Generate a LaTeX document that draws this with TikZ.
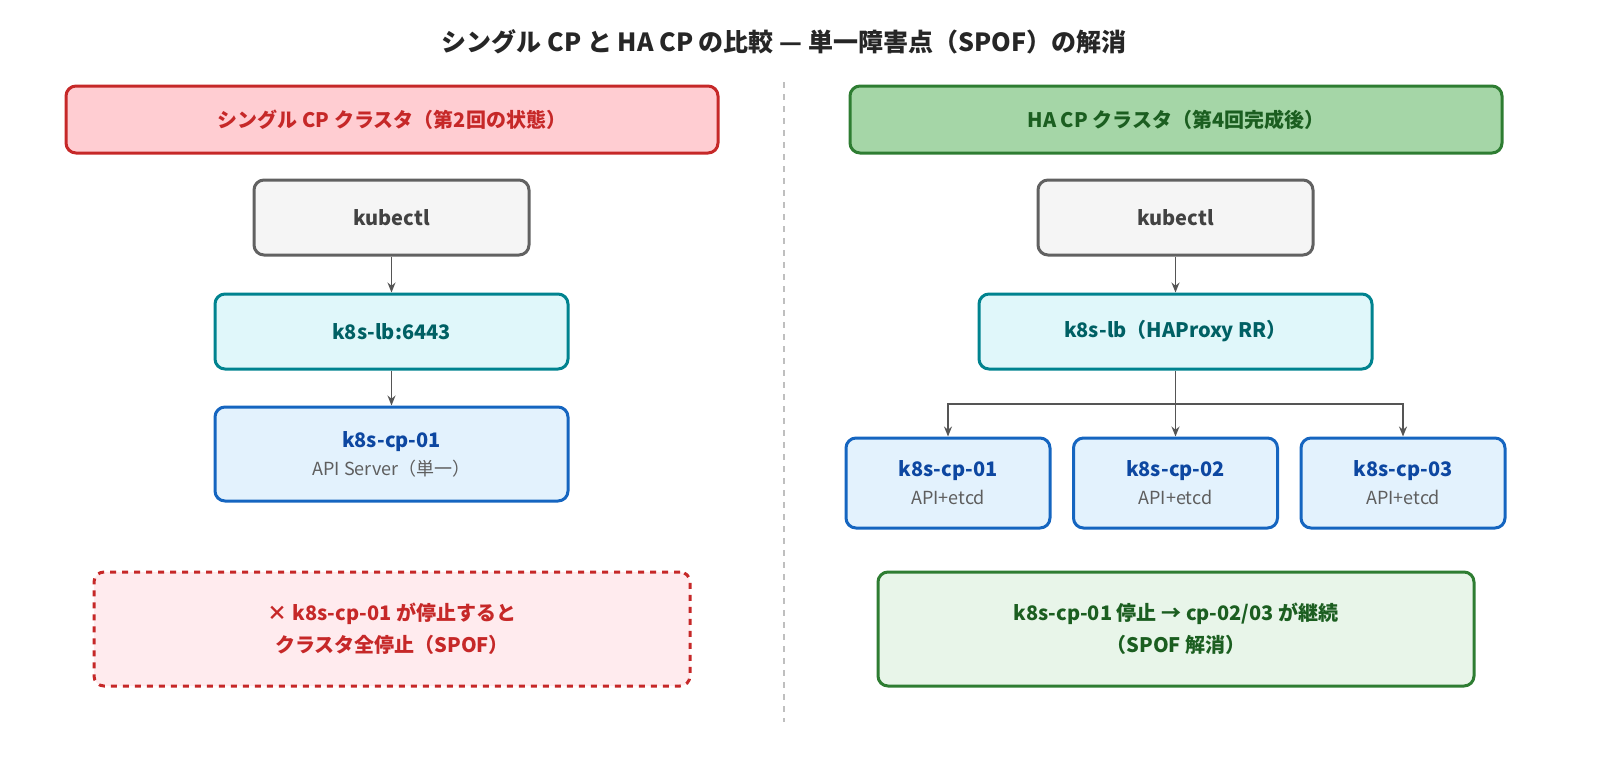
\documentclass[tikz,border=0pt]{standalone}
\usepackage{fontspec}
\setmainfont{Noto Sans CJK JP}
\usetikzlibrary{arrows.meta}
\definecolor{rb}{HTML}{C62828}\definecolor{rf}{HTML}{FFCDD2}\definecolor{rn}{HTML}{FFEBEE}
\definecolor{gb}{HTML}{2E7D32}\definecolor{gf}{HTML}{A5D6A7}\definecolor{gt}{HTML}{1B5E20}\definecolor{gn}{HTML}{E8F5E9}
\definecolor{kb}{HTML}{616161}\definecolor{kf}{HTML}{F5F5F5}\definecolor{kt}{HTML}{424242}
\definecolor{lb}{HTML}{00838F}\definecolor{lf}{HTML}{E0F7FA}\definecolor{lt}{HTML}{006064}
\definecolor{cb}{HTML}{1565C0}\definecolor{cf}{HTML}{E3F2FD}\definecolor{ct}{HTML}{0D47A1}
\tikzset{box/.style={draw,line width=1.5pt,rounded corners=5pt,align=center,font=\bfseries\fontsize{10}{16}\selectfont},
arr/.style={draw=kt!90,line width=0.7pt,-{Stealth[length=5pt,width=4pt]}},
sub/.style={font=\mdseries\fontsize{9}{12}\selectfont,text=kt!85}}
\newcommand{\bx}[6]{\path[box,draw=#5,fill=#6] (#1) rectangle (#2); \node[text=#4,font=\bfseries\fontsize{10}{16}\selectfont,align=center] (#3) at ($(#1)!0.5!(#2)$) {};}
\usetikzlibrary{calc}
\begin{document}
\begin{tikzpicture}[x=0.5pt,y=-0.5pt]
\path[use as bounding box] (0,0) rectangle (1600,756);
\node[font=\bfseries\fontsize{12.5}{14}\selectfont,text=black!85] (title) at (784,42) {シングル CP と HA CP の比較 — 単一障害点（SPOF）の解消};
\draw[black!25,dashed,line width=0.7pt] (784,82) -- (784,722);
% left
\node[box,draw=rb,fill=rf,text=rb,minimum width=326pt,minimum height=33.5pt] (lh) at (392,119.5) {シングル CP クラスタ（第2回の状態）};
\node[box,draw=kb,fill=kf,text=kt,minimum width=137.5pt,minimum height=37.5pt] (lk) at (391.5,217.5) {kubectl};
\node[box,draw=lb,fill=lf,text=lt,minimum width=176.5pt,minimum height=37.5pt] (ll) at (391.5,331.5) {k8s-lb:6443};
\node[box,draw=cb,fill=cf,text=ct,minimum width=176.5pt,minimum height=47pt] (lc) at (391.5,454) {k8s-cp-01\\[-2pt]{\mdseries\fontsize{9}{12}\selectfont\color{kt!85}API Server（単一）}};
\node[box,dashed,draw=rb,fill=rn,text=rb,minimum width=298pt,minimum height=57pt] (ln) at (392,629) {× k8s-cp-01 が停止すると\\クラスタ全停止（SPOF）};
\draw[arr] (lk) -- (ll);
\draw[arr] (ll) -- (lc);
% right
\node[box,draw=gb,fill=gf,text=gt,minimum width=326pt,minimum height=33.5pt] (rh) at (1176,119.5) {HA CP クラスタ（第4回完成後）};
\node[box,draw=kb,fill=kf,text=kt,minimum width=137.5pt,minimum height=37.5pt] (rk) at (1175.5,217.5) {kubectl};
\node[box,draw=lb,fill=lf,text=lt,minimum width=196.5pt,minimum height=37.5pt] (rl) at (1175.5,331.5) {k8s-lb（HAProxy RR）};
\foreach \n/\x in {1/948,2/1175.5,3/1403}{
\node[box,draw=cb,fill=cf,text=ct,minimum width=102pt,minimum height=45pt] (c\n) at (\x,483) {k8s-cp-0\n\\[-2pt]{\mdseries\fontsize{9}{12}\selectfont\color{kt!85}API+etcd}};}
\node[box,draw=gb,fill=gn,text=gt,minimum width=298pt,minimum height=57pt] (rn) at (1176,629) {k8s-cp-01 停止 → cp-02/03 が継続\\（SPOF 解消）};
\draw[arr] (rk) -- (rl);
\coordinate (br) at (1175.5,404);
\draw[kt!90,line width=0.7pt] (rl.south) -- (br);
\draw[arr] (br) -| (c1.north);
\draw[arr] (br) -- (c2.north);
\draw[arr] (br) -| (c3.north);
\end{tikzpicture}
\end{document}
